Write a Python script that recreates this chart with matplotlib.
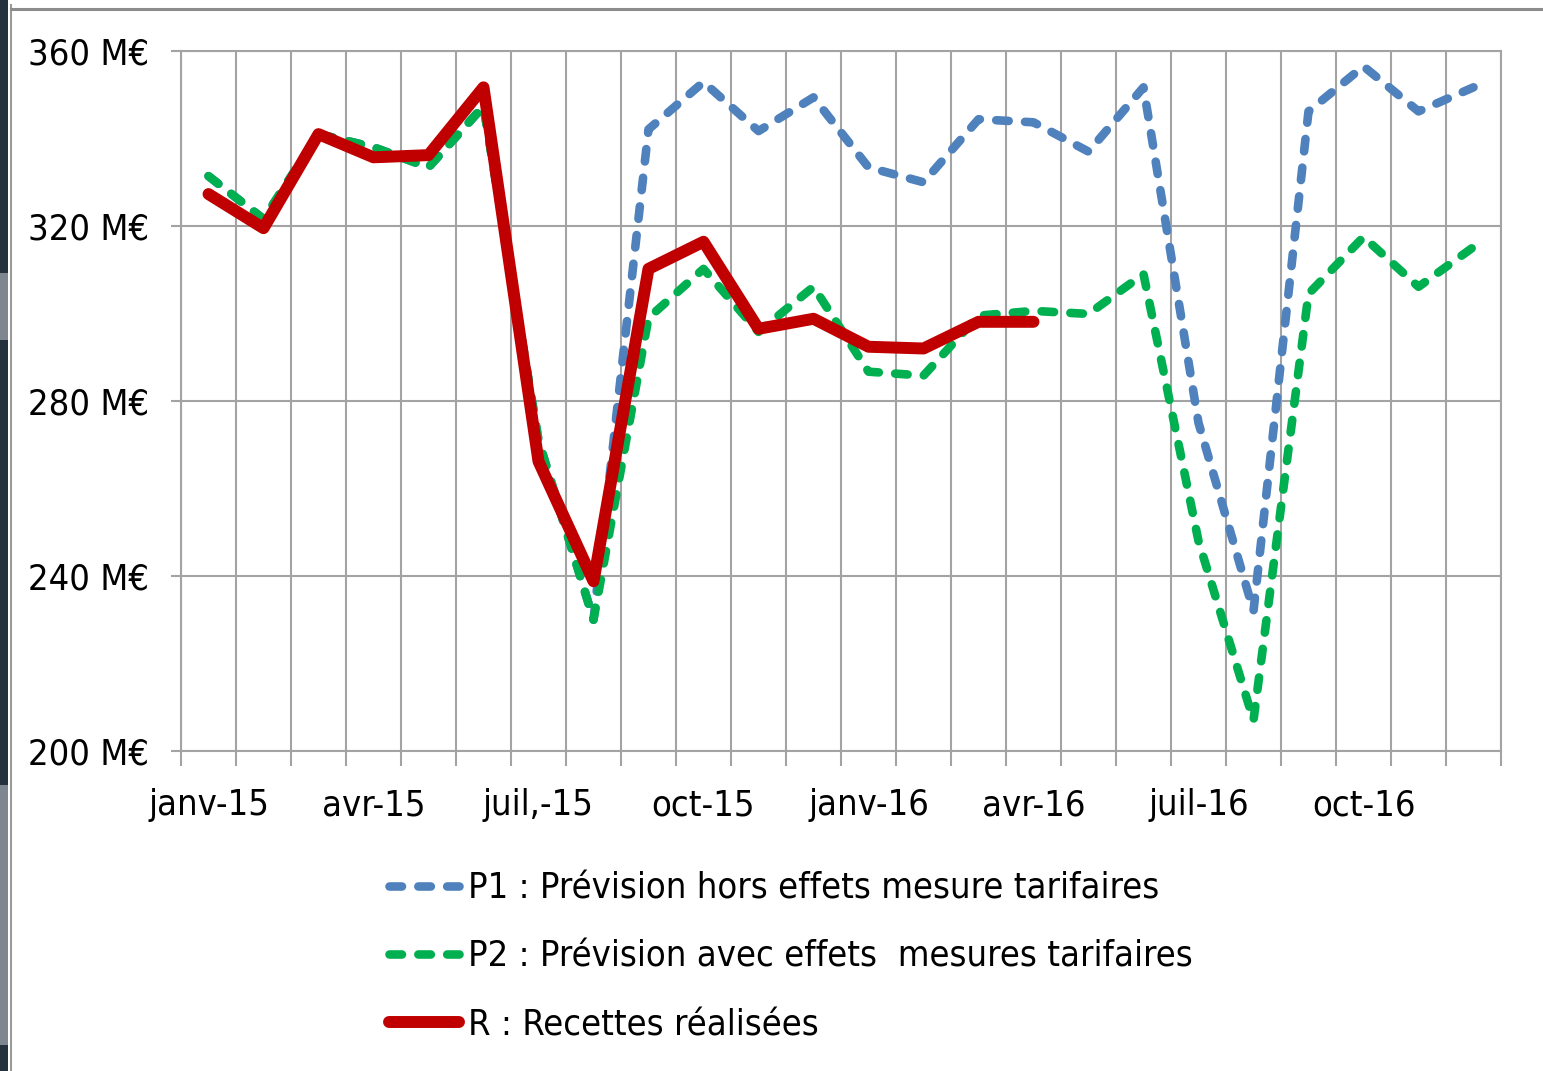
import matplotlib
matplotlib.use('Agg')
import matplotlib.pyplot as plt
from matplotlib.lines import Line2D
from matplotlib.patches import Rectangle

# monthly revenue, M€ (janv-15 .. déc-16)
months = ["janv-15", "févr-15", "mars-15", "avr-15", "mai-15", "juin-15",
          "juil,-15", "août-15", "sept-15", "oct-15", "nov-15", "déc-15",
          "janv-16", "févr-16", "mars-16", "avr-16", "mai-16", "juin-16",
          "juil-16", "août-16", "sept-16", "oct-16", "nov-16", "déc-16"]
p1 = [331.4, 321.6, 341.0, 338.0, 333.4, 347.4, 271.0, 230.0,
      342.1, 352.9, 341.7, 349.4, 333.4, 330.0, 344.4, 343.7,
      337.0, 351.7, 275.0, 232.0, 346.2, 356.5, 346.2, 351.7]
p2 = [331.4, 321.6, 341.0, 338.0, 333.4, 347.4, 271.0, 230.0,
      299.0, 310.2, 295.8, 306.1, 286.7, 285.8, 299.5, 300.6,
      299.9, 309.0, 248.0, 207.0, 304.5, 317.5, 306.1, 315.2]
recettes = [327.3, 319.5, 341.0, 335.7, 336.2, 351.7, 266.2, 238.8,
            310.2, 316.4, 296.5, 298.8, 292.4, 292.0, 298.1, 298.1]
yticks = [200, 240, 280, 320, 360]

labels = ["P1 : Prévision hors effets mesure tarifaires",
          "P2 : Prévision avec effets  mesures tarifaires",
          "R : Recettes réalisées"]

W, H = 1543, 1071
BLUE, GREEN, RED = "#4f81bd", "#00b050", "#c00000"
GRID = "#a3a3a3"
FONT = dict(family="DejaVu Sans", stretch="condensed")

fig = plt.figure(figsize=(W / 100, H / 100), dpi=100)


def px(x, y):
    """pixel (from top-left) -> figure fraction"""
    return x / W, 1 - y / H


# screenshot frame around the chart
fig.add_artist(Rectangle((0, 0), 8 / W, 1, transform=fig.transFigure,
                         color="#25313d", lw=0))
for y0, y1 in [(273, 340), (785, 1045)]:
    fig.add_artist(Rectangle(px(0, y1), 8 / W, (y1 - y0) / H,
                             transform=fig.transFigure, color="#7e878f", lw=0))
fig.add_artist(Line2D([11 / W, 11 / W], [0, 1 - 5 / H], transform=fig.transFigure,
                      color="#9a9a9a", lw=1.5))
fig.add_artist(Line2D([11 / W, 1], [1 - 9 / H, 1 - 9 / H], transform=fig.transFigure,
                      color="#8c8c8c", lw=2.2))

ax = fig.add_axes([181 / W, 1 - 751 / H, 1320 / W, 700 / H])

x = list(range(len(months)))
dash_kw = dict(linestyle=(0, (1.45, 1.9)), dash_capstyle="round",
               dash_joinstyle="round")
ax.plot(x, p1, color=BLUE, lw=6.2, zorder=3, label=labels[0], **dash_kw)
ax.plot(x, p2, color=GREEN, lw=6.2, zorder=4, label=labels[1], **dash_kw)
ax.plot(x[:len(recettes)], recettes, color=RED, lw=8.6, zorder=5,
        solid_capstyle="round", solid_joinstyle="round", label=labels[2])

ax.set_xlim(-0.5, len(months) - 0.5)
ax.set_ylim(200, 360)

# category labels every quarter, tick marks / gridlines between categories
ax.set_xticks(x[::3])
ax.set_xticklabels(months[::3], fontsize=26, **FONT)
ax.set_xticks([i - 0.5 for i in range(len(months) + 1)], minor=True)
ax.tick_params(axis="x", which="major", length=0, pad=27)
ax.tick_params(axis="x", which="minor", length=11, width=1.5, color=GRID)
ax.grid(True, axis="x", which="minor", color=GRID, lw=1.5, zorder=0)

ax.set_yticks(yticks)
ax.set_yticklabels([f"{v} M€" for v in yticks], fontsize=26, **FONT)
ax.tick_params(axis="y", length=7, width=1.5, color=GRID, pad=16)
ax.grid(True, axis="y", color=GRID, lw=1.5, zorder=0)

for side in ["left", "right", "top", "bottom"]:
    ax.spines[side].set_color(GRID)
    ax.spines[side].set_linewidth(1.5)

handles, _ = ax.get_legend_handles_labels()
fig.legend(handles, labels, loc="upper left",
           bbox_to_anchor=px(356, 839), frameon=False,
           prop=dict(size=26, **FONT), handlelength=1.95,
           handletextpad=0.25, labelspacing=0.95)

fig.savefig("out.png", dpi=100, facecolor="white")
